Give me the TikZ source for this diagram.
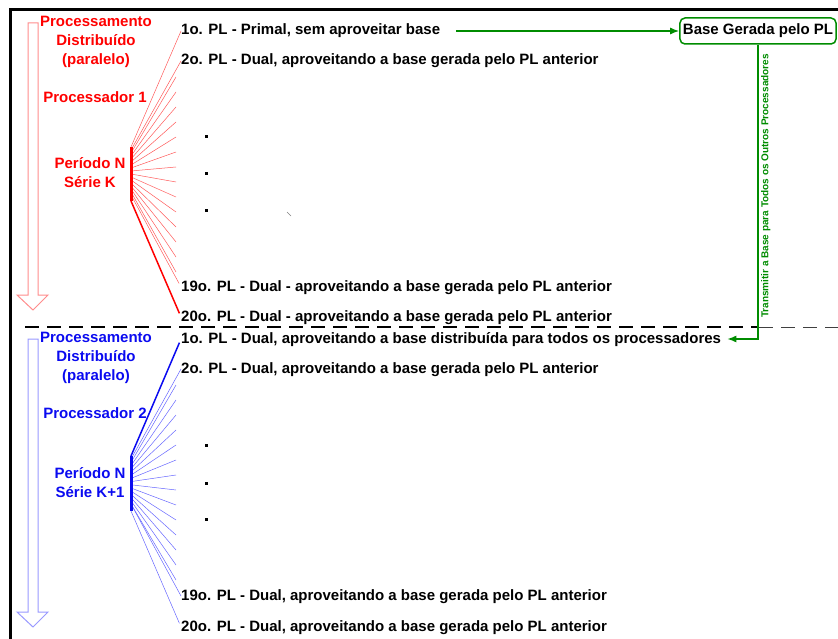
\documentclass[tikz,border=0pt]{standalone}
\usepackage{fontspec}
\setmainfont{Liberation Sans}
\usepackage{tikz}
\usetikzlibrary{arrows.meta}
\definecolor{verde}{RGB}{0,140,0}
\definecolor{vermelho}{RGB}{255,0,0}
\definecolor{azul}{RGB}{10,10,240}
\tikzstyle{pl} = [anchor=west,inner sep=0pt,text height=11pt,text depth=3pt,font=\fontsize{15}{18}\selectfont\bfseries]
\tikzstyle{rotulo} = [align=center,inner sep=0pt,font=\fontsize{15}{19}\selectfont\bfseries]
\tikzstyle{garrow} = [verde,line width=1.5pt,-{Latex[length=9pt,width=7pt]}]
\tikzstyle{seta} = [line width=1pt,fill=white]

\begin{document}
\begin{tikzpicture}[x=1pt,y=-1pt]
      \useasboundingbox (0,0) rectangle (838,639);
      \draw[line width=3pt](10.5,639)--(10.5,9.5)--(838,9.5);
      \coordinate (divA) at (25,327); \coordinate (divM) at (759,327); \coordinate (divB) at (838,327);
      \draw[line width=1.5pt,dash pattern=on 14pt off 8pt](divA)--(divM);
      \draw[black!75,line width=1pt,dash pattern=on 14pt off 8pt](divM)--(divB);
      \draw[seta,draw=red!45](28,23)--(38,23)--(38,295)--(48,295)--(33,310)--(17,295)--(28,295)--cycle;
      \draw[seta,draw=blue!40](28,339)--(38,339)--(38,612)--(48,612)--(33,627)--(17,612)--(28,612)--cycle;
      \node[rotulo,vermelho](proc1) at (96,42){Processamento\\Distribuído\\(paralelo)};
      \node[rotulo,vermelho](cpu1) at (95,97){Processador 1};
      \node[rotulo,vermelho](per1) at (90,173){Período N\\Série K};
      \node[rotulo,azul](proc2) at (96,358){Processamento\\Distribuído\\(paralelo)};
      \node[rotulo,azul](cpu2) at (95,413){Processador 2};
      \node[rotulo,azul](per2) at (90,483){Período N\\Série K+1};
      \node[pl](t1) at (181,31){1o. PL - Primal, sem aproveitar base};
      \node[pl](t2) at (181,61){2o. PL - Dual, aproveitando a base gerada pelo PL anterior};
      \node[pl](t19) at (181,287){19o. PL - Dual - aproveitando a base gerada pelo PL anterior};
      \node[pl](t20) at (181,317){20o. PL - Dual - aproveitando a base gerada pelo PL anterior};
      \node[pl](b1) at (181,339){1o. PL - Dual, aproveitando a base distribuída para todos os processadores};
      \node[pl](b2) at (181,369){2o. PL - Dual, aproveitando a base gerada pelo PL anterior};
      \node[pl](b19) at (181,596){19o. PL - Dual, aproveitando a base gerada pelo PL anterior};
      \node[pl](b20) at (181,627){20o. PL - Dual, aproveitando a base gerada pelo PL anterior};
      \coordinate (bar1a) at (131,147); \coordinate (bar1b) at (131,201);
      \coordinate (bar2a) at (131,456); \coordinate (bar2b) at (131,511);
      \foreach \k in {3,...,16}{
        \coordinate (f\k) at (176,{32+15*\k});
        \draw[red!65,line width=.5pt](131,{147+3*(\k-1)})--(f\k);
        \coordinate (g\k) at (176,{340+15*\k});
        \draw[blue!60,line width=.5pt](131,{456+3.2*(\k-1)})--(g\k);
      }
      \draw[red!65,line width=.5pt,shorten >=4pt](bar1a)--(t1.west)(131,150)--(t2.west)(131,195)--(t19.west);
      \draw[vermelho,line width=1.5pt,shorten >=4pt](bar1b)--(t20.west);
      \draw[blue!60,line width=.5pt,shorten >=4pt](131,459)--(b2.west)(131,504)--(b19.west)(bar2b)--(b20.west);
      \draw[azul,line width=1.5pt,shorten >=4pt](bar2a)--(b1.west);
      \draw[vermelho,line width=3pt](bar1a)--(bar1b);
      \draw[azul,line width=3pt](bar2a)--(bar2b);
      \foreach \y in {137,174,211,445,483,519}\fill(204.5,\y-1.5)rectangle+(3,3);
      \draw[gray,line width=.6pt](287,212)--(291,216);
      \node[draw=verde,line width=1.5pt,rounded corners=5pt,inner xsep=3pt,inner ysep=6pt,text height=11pt,text depth=3pt,font=\fontsize{15}{18}\selectfont\bfseries](base) at (758,31){Base Gerada pelo PL};
      \draw[garrow,shorten <=16pt](t1.east)--(base.west);
      \draw[garrow,shorten >=6pt](base.south)|-(b1.east);
      \path(base.south)--(base.south|-b1.east)node[pos=.48,rotate=90,anchor=north,inner sep=3pt,verde,font=\fontsize{10}{12}\selectfont\bfseries](transm){Transmitir a Base para Todos os Outros Processadores};
    \end{tikzpicture}
\end{document}
